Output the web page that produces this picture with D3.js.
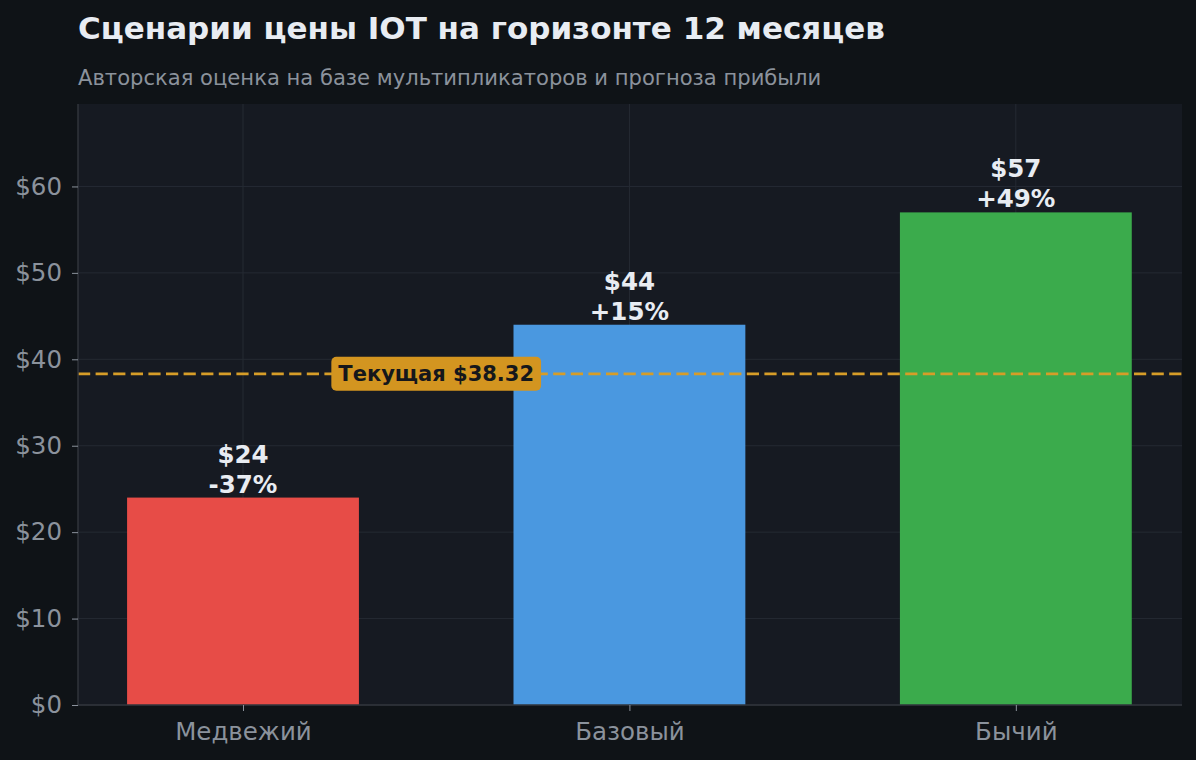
<!DOCTYPE html>
<html><head><meta charset="utf-8">
<script src="https://cdn.jsdelivr.net/npm/d3@7"></script>
<style>body{margin:0;background:#0f1317;}svg{display:block;}</style>
</head><body>
<svg id="c" width="1196" height="760"></svg>
<script>
const categories = ["Медвежий", "Базовый", "Бычий"];
const prices = [24, 44, 57];
const changes = ["-37%", "+15%", "+49%"];
const colors = ["#e74c47", "#4a98e0", "#3bab4c"];
const currentPrice = 38.32;
const yTicks = [0, 10, 20, 30, 40, 50, 60];
const title = "Сценарии цены IOT на горизонте 12 месяцев";
const subtitle = "Авторская оценка на базе мультипликаторов и прогноза прибыли";

const W = 1196, H = 760;
const m = {l: 78, r: 14, t: 104, b: 55};
const pw = W - m.l - m.r, ph = H - m.t - m.b;
const svg = d3.select("#c");
svg.append("rect").attr("width", W).attr("height", H).attr("fill", "#0f1317");
const g = svg.append("g").attr("transform", `translate(${m.l},${m.t})`);
g.append("rect").attr("width", pw).attr("height", ph).attr("fill", "#161a22");

const x = d3.scaleLinear().domain([-0.427, 2.43]).range([0, pw]);
const y = d3.scaleLinear().domain([0, d3.max(prices) * 1.22]).range([ph, 0]);
const bw = x(0.6) - x(0);

// grid
g.selectAll(".gy").data(yTicks).join("line")
  .attr("x1", 0).attr("x2", pw).attr("y1", d => y(d)).attr("y2", d => y(d))
  .attr("stroke", "#252a33").attr("stroke-width", 1);
g.selectAll(".gx").data(categories).join("line")
  .attr("x1", (d, i) => x(i)).attr("x2", (d, i) => x(i)).attr("y1", 0).attr("y2", ph)
  .attr("stroke", "#252a33").attr("stroke-width", 1);

// bars
g.selectAll(".bar").data(prices).join("rect")
  .attr("x", (d, i) => x(i) - bw / 2).attr("width", bw)
  .attr("y", d => y(d)).attr("height", d => ph - y(d))
  .attr("fill", (d, i) => colors[i]);

// labels
const lab = g.selectAll(".lab").data(prices).join("text")
  .attr("x", (d, i) => x(i)).attr("text-anchor", "middle")
  .attr("font-family", "DejaVu Sans").attr("font-weight", "bold")
  .attr("font-size", 24.5).attr("fill", "#e8ecf2");
lab.append("tspan").attr("x", (d, i) => x(i)).attr("y", d => y(d) - 35).text(d => "$" + d);
lab.append("tspan").attr("x", (d, i) => x(i)).attr("y", d => y(d) - 5).text((d, i) => changes[i]);

// current line
g.append("line").attr("x1", 0).attr("x2", pw)
  .attr("y1", y(currentPrice)).attr("y2", y(currentPrice))
  .attr("stroke", "#d69d28").attr("stroke-width", 2.8).attr("stroke-dasharray", "12.2,5.4");
const boxText = "Текущая $" + currentPrice.toFixed(2);
const bt = g.append("text").attr("x", x(0.5)).attr("y", y(currentPrice) + 7.5)
  .attr("text-anchor", "middle").attr("font-family", "DejaVu Sans").attr("font-weight", "bold")
  .attr("font-size", 21).attr("fill", "#15171b").text(boxText);
const bb = bt.node().getBBox();
g.insert("rect", () => bt.node())
  .attr("x", bb.x - 7).attr("y", y(currentPrice) - 17).attr("width", bb.width + 14).attr("height", 34)
  .attr("rx", 5).attr("fill", "#d39520");

// axes
const ya = g.append("g").call(d3.axisLeft(y).tickValues(yTicks).tickFormat(d => "$" + d).tickSize(6).tickPadding(10));
ya.select(".domain").attr("stroke", "#30343b").attr("stroke-width", 1.5).attr("d", `M0,0V${ph}`);
ya.selectAll(".tick line").attr("stroke", "#8b929c");
ya.selectAll("text").attr("fill", "#8b929c").attr("font-family", "DejaVu Sans").attr("font-size", 24.5);

const xa = g.append("g").attr("transform", `translate(0,${ph})`)
  .call(d3.axisBottom(x).tickValues([0, 1, 2]).tickFormat(i => categories[i]).tickSize(6).tickPadding(12));
xa.select(".domain").attr("stroke", "#30343b").attr("stroke-width", 1.5).attr("d", `M0,0H${pw}`);
xa.selectAll(".tick line").attr("stroke", "#8b929c");
xa.selectAll("text").attr("fill", "#8b929c").attr("font-family", "DejaVu Sans").attr("font-size", 24.5);

// titles
svg.append("text").attr("x", 78).attr("y", 39).attr("font-family", "DejaVu Sans").attr("font-weight", "bold")
  .attr("font-size", 31).attr("fill", "#e8ecf2").text(title);
svg.append("text").attr("x", 78).attr("y", 85).attr("font-family", "DejaVu Sans")
  .attr("font-size", 21.1).attr("fill", "#8b929c").text(subtitle);
</script>
</body></html>
